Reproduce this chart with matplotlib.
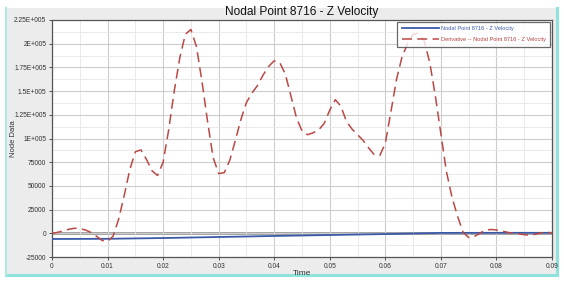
import matplotlib.pyplot as plt
from matplotlib.patches import Rectangle
from matplotlib.ticker import MultipleLocator

plt.rcParams["font.family"] = ["Liberation Sans", "DejaVu Sans"]

# values
t_vel = [0.0, 0.01, 0.02, 0.03, 0.04, 0.05, 0.06, 0.065, 0.07, 0.08, 0.09]
z_vel = [-6000, -5800, -5000, -3900, -2800, -1800, -800, -200, 400, 500, 500]

t_der = [i / 1000 for i in range(91)]
d_vel = [0, 1000, 2500, 4200, 5300, 5000, 3500, 1000, -3000, -7500,
         -8500, -3000, 15000, 40000, 67000, 86000, 88000, 78000, 66000, 61000,
         75000, 109000, 150000, 185000, 210000, 215000, 197000, 160000, 118000, 80000,
         63000, 64000, 77000, 98000, 120000, 138000, 148000, 156000, 167000, 176000,
         182000, 180000, 168000, 145000, 122000, 108000, 104000, 106000, 109000, 116000,
         130000, 141000, 134000, 118000, 110000, 104000, 98000, 90000, 83000, 82000,
         95000, 128000, 162000, 186000, 200000, 210000, 211000, 203000, 180000, 145000,
         105000, 65000, 38000, 18000, 1000, -4500, -3500, 0, 3500, 4000,
         3500, 2500, 1000, 0, -500, -1500, -2000, -1000, 500, 1000,
         500]

ticks_x = [0, 0.01, 0.02, 0.03, 0.04, 0.05, 0.06, 0.07, 0.08, 0.09]
labels_x = ["0", "0.01", "0.02", "0.03", "0.04", "0.05", "0.06", "0.07", "0.08", "0.09"]
ticks_y = [-25000, 0, 25000, 50000, 75000, 100000, 125000, 150000, 175000, 200000, 225000]
labels_y = ["-25000", "0", "25000", "50000", "75000", "1E+005", "1.25E+005",
            "1.5E+005", "1.75E+005", "2E+005", "2.25E+005"]

fig = plt.figure(figsize=(5.64, 2.82), dpi=100)
fig.patch.set_facecolor("white")

# grey panel with turquoise frame
W, H = 564, 282
fig.add_artist(Rectangle((6 / W, 1 - 275 / H), 551 / W, 267 / H,
                         transform=fig.transFigure, facecolor="#ececec",
                         edgecolor="none", zorder=-5))
fig.add_artist(plt.Line2D([6 / W, 557 / W], [1 - 275 / H] * 2, transform=fig.transFigure,
                          color="#8fe3dc", lw=2.2, zorder=-4))
fig.add_artist(plt.Line2D([6 / W, 6 / W], [1 - 275 / H, 1 - 8 / H], transform=fig.transFigure,
                          color="#aeeae5", lw=1.5, zorder=-4))
fig.add_artist(plt.Line2D([557 / W, 557 / W], [1 - 275 / H, 1 - 8 / H], transform=fig.transFigure,
                          color="#8fe3dc", lw=2.2, zorder=-4))

ax = fig.add_axes([52 / W, 1 - 257 / H, 500 / W, 237 / H])
ax.set_facecolor("white")

ax.axhline(0, color="#999999", lw=2.0, zorder=1)
ax.plot(t_vel, z_vel, color="#3a5aa8", lw=1.3, label="Nodal Point 8716 - Z Velocity", zorder=3)
ax.plot(t_der, d_vel, color="#bb4845", lw=1.1, dashes=(6.5, 3.5),
        label="Derivative -- Nodal Point 8716 - Z Velocity", zorder=3)

ax.set_xlim(0, 0.09)
ax.set_ylim(-25000, 225000)
ax.set_xticks(ticks_x)
ax.set_xticklabels(labels_x)
ax.set_yticks(ticks_y)
ax.set_yticklabels(labels_y)
ax.xaxis.set_minor_locator(MultipleLocator(0.005))
ax.yaxis.set_minor_locator(MultipleLocator(12500))
ax.grid(True, which="major", color="#cccccc", lw=0.8)
ax.grid(True, which="minor", color="#e6e6e6", lw=0.6)
ax.tick_params(axis="both", which="major", labelsize=4.8, length=2.5, width=0.6,
               colors="#333333", pad=1.5)
ax.tick_params(axis="both", which="minor", length=0)
for s in ax.spines.values():
    s.set_color("#555555")
    s.set_linewidth(0.9)

ax.set_title("Nodal Point 8716 - Z Velocity", fontsize=8.6, color="#111111", pad=3.5)
ax.set_xlabel("Time", fontsize=6, labelpad=0, color="#333333")
ax.set_ylabel("Node Data", fontsize=5.5, color="#333333")
ax.yaxis.set_label_coords((17 - 52) / 500, 0.5)

leg = ax.legend(loc="upper right", fontsize=4.1, frameon=True, fancybox=False,
                borderaxespad=0.3, handlelength=6.5, handletextpad=0.3,
                borderpad=0.8, labelspacing=1.0)
leg.get_frame().set_edgecolor("#444444")
leg.get_frame().set_linewidth(0.9)
for txt, c in zip(leg.get_texts(), ["#3a5aa8", "#b5403f"]):
    txt.set_color(c)

fig.savefig("out.png", dpi=100)
